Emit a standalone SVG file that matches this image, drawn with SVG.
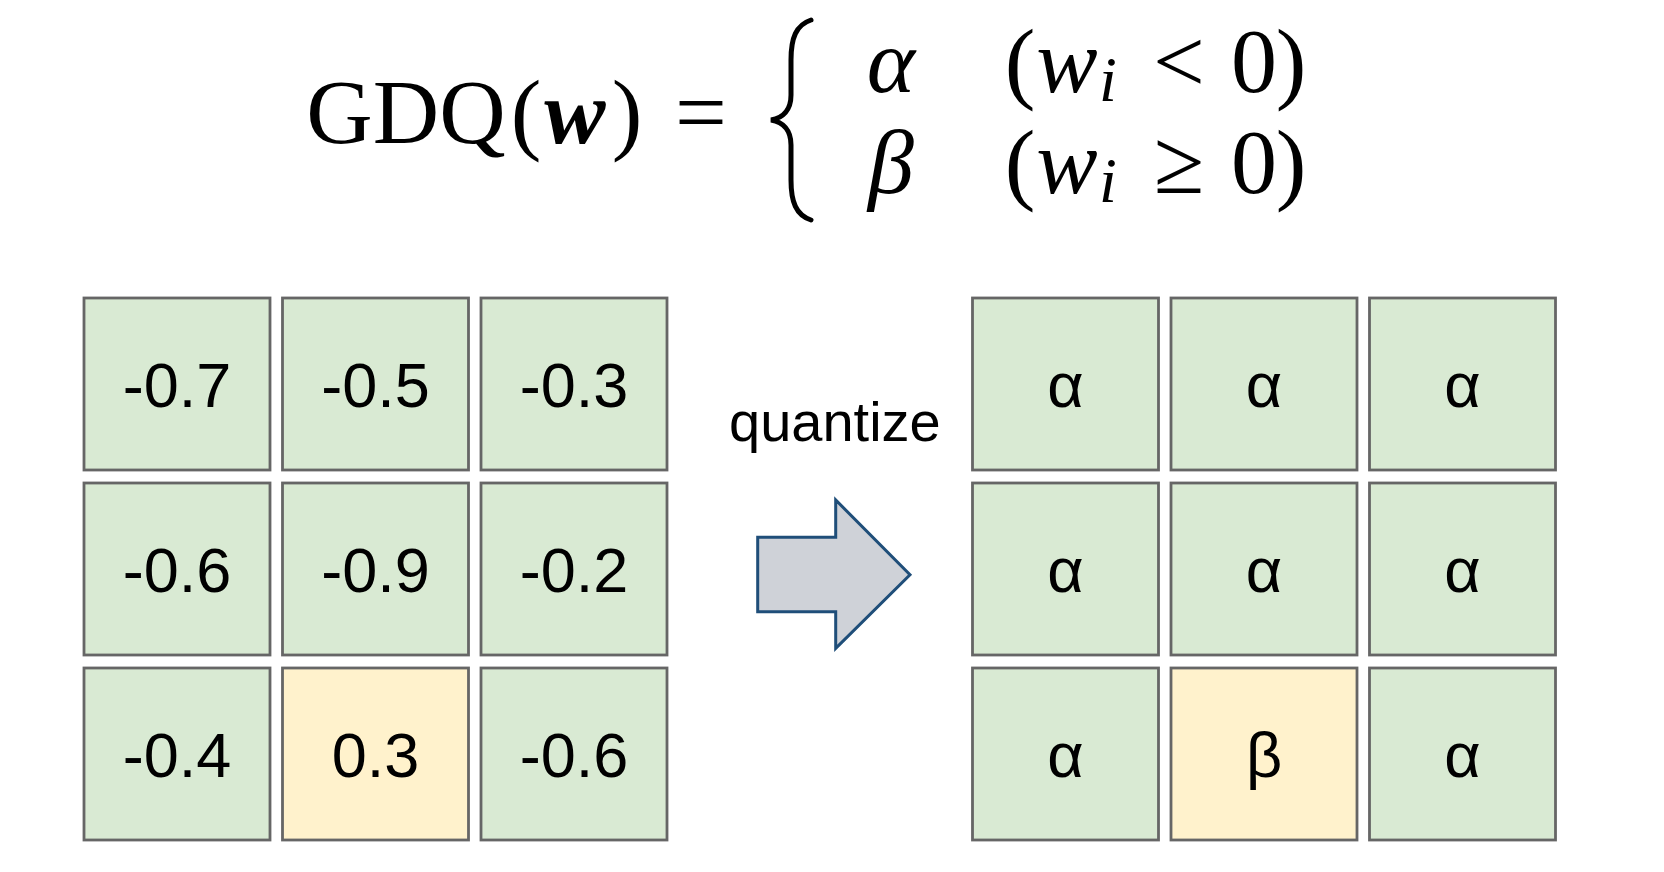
<svg xmlns="http://www.w3.org/2000/svg" width="1664" height="872" viewBox="0 0 1664 872">
<style>
.cell{stroke:#666666;stroke-width:2.8}
.g{fill:#d9ead3}
.y{fill:#fff2cc}
.ct{font-family:"Liberation Sans",Arial,sans-serif;font-size:63px;fill:#000;text-anchor:middle}
.m{font-family:"Liberation Serif","Times New Roman",serif;font-size:92px;fill:#000;text-anchor:middle}
.mi{font-style:italic}
.sub{font-family:"Liberation Serif","Times New Roman",serif;font-size:64px;font-style:italic;fill:#000;text-anchor:middle}
</style>
<rect width="1664" height="872" fill="#ffffff"/>
<g id="formula">
<text class="m" x="406" y="143">GDQ</text>
<text class="m" x="526" y="143">(</text>
<text class="m" x="575" y="143" font-weight="bold" font-style="italic">w</text>
<text class="m" x="627" y="143">)</text>
<text class="m" x="701" y="143">=</text>
<path d="M811 20 C796 25 791 38 791 60 L791 95 C791 110 783 118 771 120 C783 122 791 130 791 145 L791 180 C791 202 796 215 811 220" fill="none" stroke="#000" stroke-width="5" stroke-linecap="round"/>
<text class="m mi" x="891" y="92">α</text>
<text class="m mi" x="891" y="193">β</text>
<text class="m" x="1020" y="92">(</text>
<text class="m mi" x="1067" y="92">w</text>
<text class="sub" x="1108" y="101">i</text>
<text class="m" x="1179" y="92">&lt;</text>
<text class="m" x="1254" y="92">0</text>
<text class="m" x="1291" y="92">)</text>
<text class="m" x="1020" y="193">(</text>
<text class="m mi" x="1067" y="193">w</text>
<text class="sub" x="1108" y="202">i</text>
<text class="m" x="1179" y="193">≥</text>
<text class="m" x="1254" y="193">0</text>
<text class="m" x="1291" y="193">)</text>
</g>
<g id="input-grid">
<g id="in-0-0"><rect class="cell g" x="84" y="298" width="186" height="172"/><text class="ct" x="177" y="407">-0.7</text></g>
<g id="in-0-1"><rect class="cell g" x="282.5" y="298" width="186" height="172"/><text class="ct" x="375.5" y="407">-0.5</text></g>
<g id="in-0-2"><rect class="cell g" x="481" y="298" width="186" height="172"/><text class="ct" x="574" y="407">-0.3</text></g>
<g id="in-1-0"><rect class="cell g" x="84" y="483" width="186" height="172"/><text class="ct" x="177" y="592">-0.6</text></g>
<g id="in-1-1"><rect class="cell g" x="282.5" y="483" width="186" height="172"/><text class="ct" x="375.5" y="592">-0.9</text></g>
<g id="in-1-2"><rect class="cell g" x="481" y="483" width="186" height="172"/><text class="ct" x="574" y="592">-0.2</text></g>
<g id="in-2-0"><rect class="cell g" x="84" y="668" width="186" height="172"/><text class="ct" x="177" y="777">-0.4</text></g>
<g id="in-2-1"><rect class="cell y" x="282.5" y="668" width="186" height="172"/><text class="ct" x="375.5" y="777">0.3</text></g>
<g id="in-2-2"><rect class="cell g" x="481" y="668" width="186" height="172"/><text class="ct" x="574" y="777">-0.6</text></g>
</g>
<g id="output-grid">
<g id="out-0-0"><rect class="cell g" x="972.5" y="298" width="186" height="172"/><text class="ct" x="1065.5" y="407">α</text></g>
<g id="out-0-1"><rect class="cell g" x="1171" y="298" width="186" height="172"/><text class="ct" x="1264" y="407">α</text></g>
<g id="out-0-2"><rect class="cell g" x="1369.5" y="298" width="186" height="172"/><text class="ct" x="1462.5" y="407">α</text></g>
<g id="out-1-0"><rect class="cell g" x="972.5" y="483" width="186" height="172"/><text class="ct" x="1065.5" y="592">α</text></g>
<g id="out-1-1"><rect class="cell g" x="1171" y="483" width="186" height="172"/><text class="ct" x="1264" y="592">α</text></g>
<g id="out-1-2"><rect class="cell g" x="1369.5" y="483" width="186" height="172"/><text class="ct" x="1462.5" y="592">α</text></g>
<g id="out-2-0"><rect class="cell g" x="972.5" y="668" width="186" height="172"/><text class="ct" x="1065.5" y="777">α</text></g>
<g id="out-2-1"><rect class="cell y" x="1171" y="668" width="186" height="172"/><text class="ct" x="1264" y="777">β</text></g>
<g id="out-2-2"><rect class="cell g" x="1369.5" y="668" width="186" height="172"/><text class="ct" x="1462.5" y="777">α</text></g>
</g>
<g id="connectors">
<g id="quantize-arrow">
<polygon points="757.7,537.3 835.7,537.3 835.7,500 910,574.7 835.7,648.3 835.7,611.7 757.7,611.7" fill="#cfd2d8" stroke="#1f4e79" stroke-width="3" stroke-linejoin="miter"/>
<text x="729" y="441" font-family="'Liberation Sans',Arial,sans-serif" font-size="56" fill="#000">quantize</text>
</g>
</g>
</svg>
